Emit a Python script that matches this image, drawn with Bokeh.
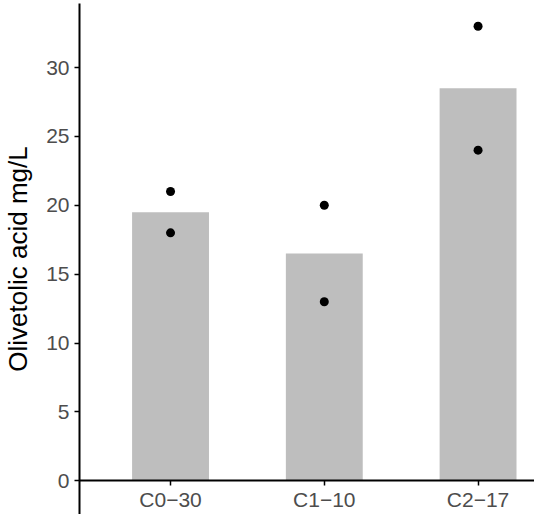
from bokeh.plotting import figure
from bokeh.models import Range1d, FixedTicker, ColumnDataSource
from bokeh.embed import file_html
from bokeh.resources import INLINE

categories = ["C0−30", "C1−10", "C2−17"]
bar_means = [19.5, 16.5, 28.5]
point_cat = [0, 0, 1, 1, 2, 2]
point_vals = [21, 18, 20, 13, 33, 24]
y_ticks = [0, 5, 10, 15, 20, 25, 30]

xpos = [i + 1 for i in range(len(categories))]
bar_src = ColumnDataSource(dict(x=xpos, top=bar_means))
pt_src = ColumnDataSource(dict(x=[point_cat[i] + 1 for i in range(len(point_cat))], y=point_vals))

p = figure(width=534, height=514, output_backend="svg", toolbar_location=None,
           x_range=Range1d(0.408, 3.367), y_range=Range1d(-2.45, 34.65),
           min_border_left=74, min_border_right=0, min_border_top=3, min_border_bottom=0)
p.outline_line_color = None
p.grid.visible = False
p.background_fill_color = "white"

p.vbar(x="x", top="top", bottom=0, width=0.5, source=bar_src, fill_color="#BEBEBE", line_color=None)
p.scatter(x="x", y="y", source=pt_src, size=9, fill_color="black", line_color=None)

# x axis drawn at y = 0
xa = p.xaxis[0]
xa.fixed_location = 0
xa.ticker = FixedTicker(ticks=xpos)
xa.major_label_overrides = {x: c for x, c in zip(xpos, categories)}
xa.axis_line_width = 2
xa.axis_line_color = "black"
xa.major_tick_line_color = "black"
xa.major_tick_line_width = 1.5
xa.major_tick_in = 0
xa.major_tick_out = 5
xa.minor_tick_line_color = None
xa.major_label_text_font = "Liberation Sans"
xa.major_label_text_font_size = "21px"
xa.major_label_text_color = "#4D4D4D"
xa.major_label_standoff = 2

ya = p.yaxis[0]
ya.ticker = FixedTicker(ticks=y_ticks)
ya.axis_line_width = 2
ya.axis_line_color = "black"
ya.major_tick_line_color = "black"
ya.major_tick_line_width = 1.5
ya.major_tick_in = 0
ya.major_tick_out = 5
ya.minor_tick_line_color = None
ya.major_label_text_font = "Liberation Sans"
ya.major_label_text_font_size = "21px"
ya.major_label_text_color = "#4D4D4D"
ya.major_label_standoff = 5
ya.axis_label = "Olivetolic acid mg/L"
ya.axis_label_text_font = "Liberation Sans"
ya.axis_label_text_font_size = "26px"
ya.axis_label_text_font_style = "normal"
ya.axis_label_text_color = "black"
ya.axis_label_standoff = 10

open("out.html", "w").write(file_html(p, INLINE))
